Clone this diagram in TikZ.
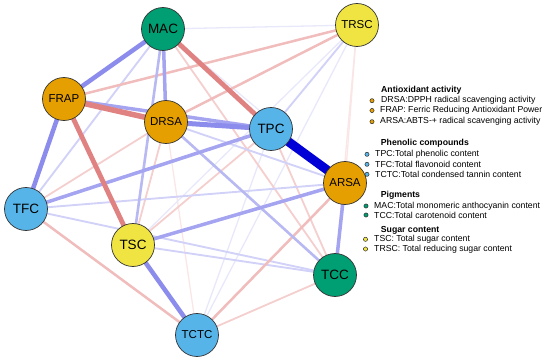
\documentclass[tikz,border=0pt]{standalone}
\usepackage{fontspec}
\setmainfont{Liberation Sans}
\begin{document}
\begin{tikzpicture}[x=1pt,y=-1pt,
  nd/.style={circle,draw=black!80,line width=0.7pt,minimum size=43pt,inner sep=0pt,font=\fontsize{13.5}{14}\selectfont},
  ndl/.style={nd,font=\fontsize{11.5}{12}\selectfont},
  orn/.style={fill=orange1}, blu/.style={fill=blue1}, grn/.style={fill=green1}, yel/.style={fill=yellow1},
  pbx/.style={draw=strongblue,line width=9pt},
  pbf/.style={draw=pb5c,line width=4.5pt},
  pbd/.style={draw=pb4c,line width=3.5pt},
  pbc/.style={draw=pb3c,line width=2.6pt},
  pbb/.style={draw=pb2c,line width=1.9pt},
  pba/.style={draw=pb1c,line width=1.3pt},
  nre/.style={draw=nr5c,line width=4.8pt},
  nrc/.style={draw=nr3c,line width=2.5pt},
  nrb/.style={draw=nr2c,line width=1.8pt},
  nra/.style={draw=nr1c,line width=1.3pt},
  lh/.style={anchor=west,font=\fontsize{8.7}{10}\selectfont\bfseries,inner sep=0pt},
  li/.style={anchor=west,font=\fontsize{8.7}{10}\selectfont,inner sep=0pt},
  bul/.style={circle,draw=black!80,line width=0.5pt,minimum size=4.2pt,inner sep=0pt}
]
\definecolor{orange1}{HTML}{E69F00}
\definecolor{blue1}{HTML}{56B4E9}
\definecolor{green1}{HTML}{009E73}
\definecolor{yellow1}{HTML}{F0E442}
\definecolor{strongblue}{HTML}{0000D6}
\definecolor{pb5c}{HTML}{8C8CEC}
\definecolor{pb4c}{HTML}{A4A4F0}
\definecolor{pb3c}{HTML}{B8B8F3}
\definecolor{pb2c}{HTML}{D2D2F8}
\definecolor{pb1c}{HTML}{E8E8FB}
\definecolor{nr5c}{HTML}{E08282}
\definecolor{nr3c}{HTML}{F0BCBC}
\definecolor{nr2c}{HTML}{F5CECE}
\definecolor{nr1c}{HTML}{FAE6E6}
\useasboundingbox (0,0) rectangle (550,361);
% node coordinates
\coordinate (cMAC) at (163,29);
\coordinate (cTRSC) at (357,25);
\coordinate (cFRAP) at (64,99);
\coordinate (cDRSA) at (166,122);
\coordinate (cTPC) at (271,129);
\coordinate (cARSA) at (345,183);
\coordinate (cTFC) at (26,209);
\coordinate (cTSC) at (133,245);
\coordinate (cTCC) at (335,275);
\coordinate (cTCTC) at (197,335);
% faint edges
\draw[nra] (cTRSC) -- (cARSA);
\draw[nra] (cDRSA) -- (cTCTC);
\draw[nra] (cTRSC) -- (cTCC);
\draw[pba] (cTPC) -- (cTCTC);
\draw[pba] (cTRSC) -- (cTSC);
\draw[pba] (cMAC) -- (cTRSC);
\draw[pba] (cMAC) -- (cARSA);
\draw[pba] (cTRSC) -- (cTCTC);
\draw[nrb] (cTFC) -- (cDRSA);
\draw[nrb] (cDRSA) -- (cTSC);
\draw[nrb] (cTSC) -- (cTPC);
\draw[nrb] (cMAC) -- (cTCC);
\draw[nrb] (cTPC) -- (cTCC);
\draw[nrb] (cTCTC) -- (cTCC);
\draw[pbb] (cTRSC) -- (cTPC);
\draw[pbb] (cMAC) -- (cTFC);
\draw[pbb] (cTFC) -- (cARSA);
\draw[pbb] (cTFC) -- (cTCC);
\draw[pbb] (cTSC) -- (cTCC);
\draw[pbb] (cDRSA) -- (cARSA);
\draw[nrc] (cTRSC) -- (cFRAP);
\draw[nrc] (cTRSC) -- (cDRSA);
\draw[nrc] (cTFC) -- (cTCTC);
\draw[nrc] (cTCTC) -- (cARSA);
\draw[pbc] (cMAC) -- (cTSC);
\draw[pbc] (cDRSA) -- (cTCC);
\draw[pbd] (cFRAP) -- (cTPC);
\draw[pbd] (cMAC) -- (cDRSA);
\draw[pbd] (cTFC) -- (cTPC);
\draw[pbd] (cTSC) -- (cARSA);
\draw[pbd] (cARSA) -- (cTCC);
\draw[pbf] (cMAC) -- (cFRAP);
\draw[pbf] (cFRAP) -- (cTFC);
\draw[pbf] (cTSC) -- (cTCTC);
\draw[pbf,line width=5pt] (cDRSA) -- (cTPC);
\draw[nre] (cMAC) -- (cTPC);
\draw[nre] (cFRAP) -- (cTSC);
\draw[nre,line width=5.5pt] (cFRAP) -- (cDRSA);
\draw[pbx] (cTPC) -- (cARSA);
% nodes
\node[nd,grn] (MAC) at (cMAC) {MAC};
\node[ndl,yel] (TRSC) at (cTRSC) {TRSC};
\node[ndl,orn] (FRAP) at (cFRAP) {FRAP};
\node[ndl,orn] (DRSA) at (cDRSA) {DRSA};
\node[nd,blu] (TPC) at (cTPC) {TPC};
\node[ndl,orn] (ARSA) at (cARSA) {ARSA};
\node[nd,blu] (TFC) at (cTFC) {TFC};
\node[nd,yel] (TSC) at (cTSC) {TSC};
\node[nd,grn] (TCC) at (cTCC) {TCC};
\node[ndl,blu] (TCTC) at (cTCTC) {TCTC};
% legend
\node[lh] (h1) at (381,90) {Antioxidant activity};
\node[bul,orn] (b1) at (372,100.7) {};
\node[li] (t1) at (381,100.7) {DRSA:DPPH radical scavenging activity};
\node[bul,orn] (b2) at (372,110.5) {};
\node[li] (t2) at (380,110.5) {FRAP: Ferric Reducing Antioxidant Power};
\node[bul,orn] (b3) at (372,121.7) {};
\node[li] (t3) at (380,121.7) {ARSA:ABTS-+ radical scavenging activity};
\node[lh] (h2) at (380.7,143.5) {Phenolic compounds};
\node[bul,blu] (b4) at (367,154.3) {};
\node[li] (t4) at (375,154.3) {TPC:Total phenolic content};
\node[bul,blu] (b5) at (367,164.3) {};
\node[li] (t5) at (375,164.3) {TFC:Total flavonoid content};
\node[bul,blu] (b6) at (367,174.3) {};
\node[li] (t6) at (375,174.3) {TCTC:Total condensed tannin content};
\node[lh] (h3) at (380.7,195) {Pigments};
\node[bul,grn] (b7) at (366,206) {};
\node[li] (t7) at (374,206) {MAC:Total monomeric anthocyanin content};
\node[bul,grn] (b8) at (366,215) {};
\node[li] (t8) at (374,215) {TCC:Total carotenoid content};
\node[lh] (h4) at (380.7,230) {Sugar content};
\node[bul,yel] (b9) at (365.5,239.3) {};
\node[li] (t9) at (374,239.3) {TSC: Total sugar content};
\node[bul,yel] (b10) at (365.5,249) {};
\node[li] (t10) at (374,249) {TRSC: Total reducing sugar content};
\end{tikzpicture}
\end{document}
